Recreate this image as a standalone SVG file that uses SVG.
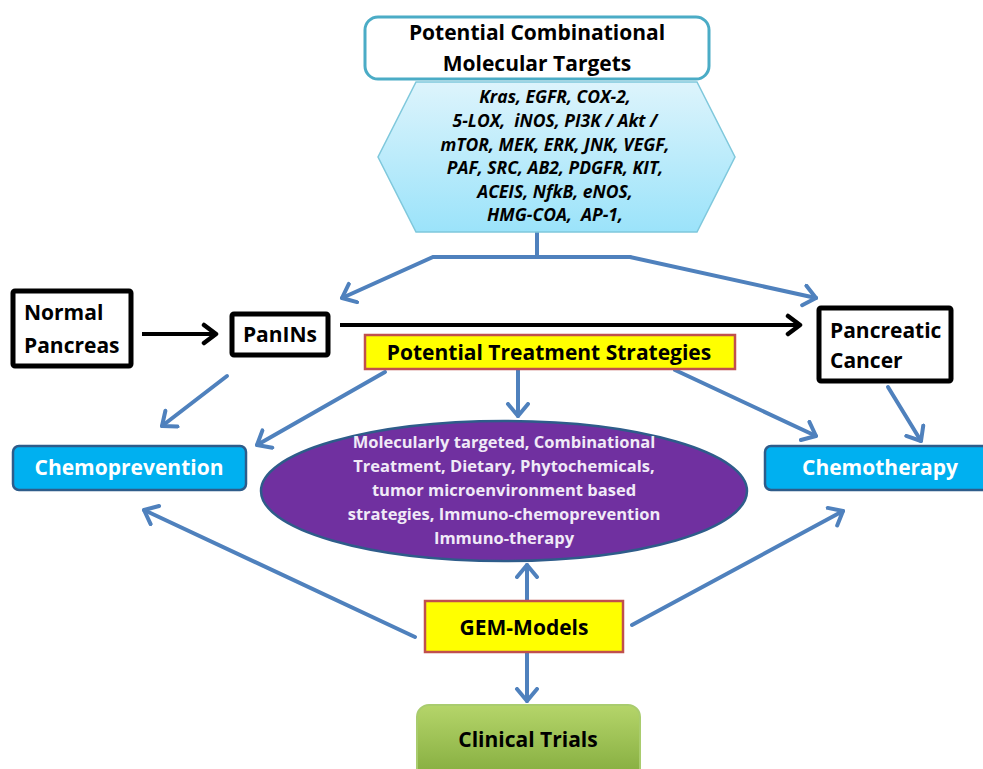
<svg xmlns="http://www.w3.org/2000/svg" width="983" height="769" viewBox="0 0 983 769">
<style>
text{font-family:"Open Sans","Noto Sans","Liberation Sans",sans-serif;font-weight:bold}
.blk{fill:#fff;stroke:#000;stroke-width:5}
.ylw{fill:#FFFF00;stroke:#C0504D;stroke-width:2.5}
.cyan{fill:#00B0F0;stroke:#2E5C8A;stroke-width:2.5}
.con{fill:none;stroke:#4F81BD;stroke-width:4;stroke-linecap:round}
.bcon{fill:none;stroke:#000;stroke-width:4}
.t21{font-size:21px;fill:#000}
.wt{font-size:21px;fill:#fff}
.ell{font-size:16.5px;fill:#F0EAF7}
.hex{font-size:17.5px;font-style:italic;fill:#000;white-space:pre}
</style>
<defs>
<linearGradient id="hexg" x1="0" y1="0" x2="0" y2="1">
<stop offset="0" stop-color="#DDF4FC"/>
<stop offset="1" stop-color="#9BE3FA"/>
</linearGradient>
<linearGradient id="grn" x1="0" y1="0" x2="0" y2="1">
<stop offset="0" stop-color="#B5D56A"/>
<stop offset="1" stop-color="#7FA83A"/>
</linearGradient>
<marker id="ah" markerUnits="userSpaceOnUse" markerWidth="30" markerHeight="30" refX="14" refY="12" orient="auto" viewBox="0 0 30 30">
<polyline points="2,2 14,12 2,22" fill="none" stroke="#4F81BD" stroke-width="4" stroke-linecap="round" stroke-linejoin="round"/>
</marker>
<marker id="bh" markerUnits="userSpaceOnUse" markerWidth="30" markerHeight="30" refX="15" refY="12" orient="auto" viewBox="0 0 30 30">
<polyline points="3,3 15,12 3,21" fill="none" stroke="#000" stroke-width="4.5" stroke-linecap="round" stroke-linejoin="round"/>
</marker>
</defs>
<rect width="983" height="769" fill="#fff"/>

<g id="connectors">
<polyline class="con" points="537,232 537,257"/>
<polyline class="con" points="630,257 433,257 342,298" marker-end="url(#ah)"/>
<polyline class="con" points="537,257 630,257 816,298" marker-end="url(#ah)"/>
<line class="bcon" x1="142" y1="334" x2="216" y2="334" marker-end="url(#bh)"/>
<line class="bcon" x1="340" y1="325" x2="800" y2="325" marker-end="url(#bh)"/>
<line class="con" x1="227" y1="376" x2="162" y2="426" marker-end="url(#ah)"/>
<line class="con" x1="385" y1="372" x2="257" y2="445" marker-end="url(#ah)"/>
<line class="con" x1="518" y1="370" x2="518" y2="416" marker-end="url(#ah)"/>
<line class="con" x1="675" y1="370" x2="816" y2="436" marker-end="url(#ah)"/>
<line class="con" x1="888" y1="387" x2="921" y2="441" marker-end="url(#ah)"/>
<line class="con" x1="415" y1="637" x2="144" y2="510" marker-end="url(#ah)"/>
<line class="con" x1="632" y1="625" x2="843" y2="511" marker-end="url(#ah)"/>
<line class="con" x1="527" y1="600" x2="527" y2="565" marker-end="url(#ah)"/>
<line class="con" x1="527" y1="653" x2="527" y2="701" marker-end="url(#ah)"/>
</g>

<g id="targets">
<polygon points="416,82 697,82 735,157 697,232 416,232 378,157" fill="url(#hexg)" stroke="#7FC8DC" stroke-width="1.5"/>
<text class="hex" text-anchor="middle"><tspan x="555" y="103">Kras, EGFR, COX-2,</tspan><tspan x="555" y="127">5-LOX,  iNOS, PI3K / Akt /</tspan><tspan x="555" y="151">mTOR, MEK, ERK, JNK, VEGF,</tspan><tspan x="555" y="174">PAF, SRC, AB2, PDGFR, KIT,</tspan><tspan x="555" y="198">ACEIS, NfkB, eNOS,</tspan><tspan x="555" y="221">HMG-COA,  AP-1,</tspan></text>
</g>

<g id="title">
<rect x="365" y="17" width="344" height="62" rx="13" fill="#fff" stroke="#4BACC6" stroke-width="3"/>
<text class="t21" text-anchor="middle"><tspan x="537" y="40">Potential Combinational</tspan><tspan x="537" y="71">Molecular Targets</tspan></text>
</g>

<g id="normal">
<rect class="blk" x="13" y="291" width="118" height="75" rx="2"/>
<text class="t21"><tspan x="24" y="320">Normal</tspan><tspan x="24" y="353">Pancreas</tspan></text>
</g>

<g id="panins">
<rect class="blk" x="232" y="314" width="96" height="41" rx="2"/>
<text class="t21" x="280" y="342" text-anchor="middle">PanINs</text>
</g>

<g id="cancer">
<rect class="blk" x="819" y="308" width="132" height="73" rx="2"/>
<text class="t21"><tspan x="830" y="338">Pancreatic</tspan><tspan x="830" y="368">Cancer</tspan></text>
</g>

<g id="strategies">
<rect class="ylw" x="365" y="335" width="370" height="34"/>
<text class="t21" x="549" y="360" text-anchor="middle">Potential Treatment Strategies</text>
</g>

<g id="chemoprevention">
<rect class="cyan" x="13" y="446" width="233" height="44" rx="6"/>
<text class="wt" x="129" y="475" text-anchor="middle">Chemoprevention</text>
</g>

<g id="chemotherapy">
<rect class="cyan" x="765" y="446" width="230" height="44" rx="6"/>
<text class="wt" x="880" y="475" text-anchor="middle">Chemotherapy</text>
</g>

<g id="treatments">
<ellipse cx="504" cy="491" rx="243" ry="70" fill="#7030A0" stroke="#2E5C8A" stroke-width="2.5"/>
<text class="ell" text-anchor="middle"><tspan x="504" y="448">Molecularly targeted, Combinational</tspan><tspan x="504" y="472">Treatment, Dietary, Phytochemicals,</tspan><tspan x="504" y="496">tumor microenvironment based</tspan><tspan x="504" y="520">strategies, Immuno-chemoprevention</tspan><tspan x="504" y="544">Immuno-therapy</tspan></text>
</g>

<g id="gem">
<rect class="ylw" x="425" y="601" width="198" height="51"/>
<text class="t21" x="524" y="635" text-anchor="middle">GEM-Models</text>
</g>

<g id="trials">
<rect x="417" y="705" width="223" height="80" rx="12" fill="url(#grn)" stroke="#A9CC6E" stroke-width="2"/>
<text class="t21" x="528" y="747" text-anchor="middle" fill="#111">Clinical Trials</text>
</g>
</svg>
